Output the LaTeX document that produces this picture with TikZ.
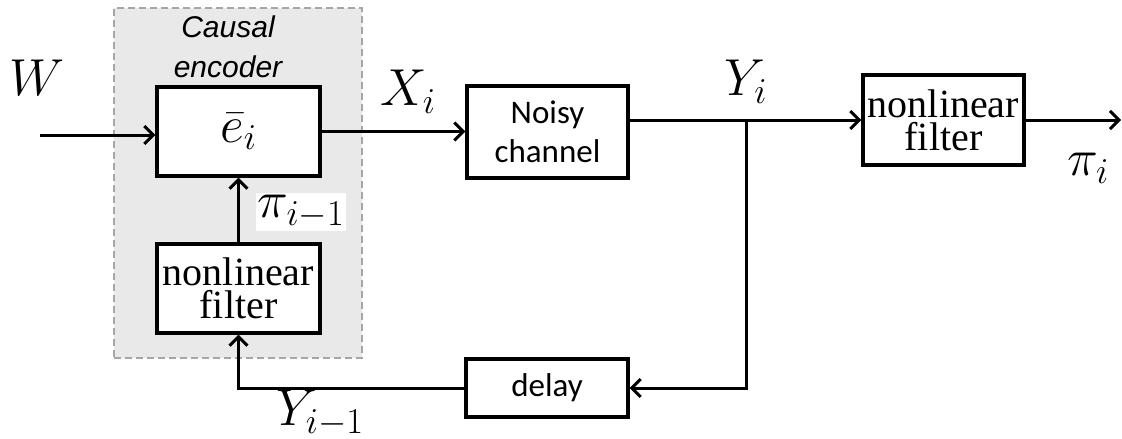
\RequirePackage{fix-cm}
\documentclass[tikz,border=0pt]{standalone}
\usepackage{fontspec}
\usetikzlibrary{arrows.meta,calc}
\newfontfamily\carl{Carlito}
\newfontfamily\arl{Liberation Sans}
\newfontfamily\tms{Liberation Serif}
\begin{document}
\begin{tikzpicture}[x=1pt,y=-1pt,
  blk/.style={draw=black,line width=3.2pt,fill=white,inner sep=0pt},
  conn/.style={line width=3pt},
  arr/.style={conn,-{Straight Barb[length=9pt,width=18pt,line width=3pt]}},
  encbox/.style={draw=gray!70,dashed,dash pattern=on 7pt off 4pt,line width=2pt,fill=gray!17,inner sep=0pt},
  serif/.style={font=\tms\fontsize{40}{33}\selectfont,align=center},
  sans/.style={font=\carl\fontsize{33}{39}\selectfont,align=center},
  mlab/.style={inner sep=0pt,font=\fontsize{52}{54}\selectfont}
]
\useasboundingbox (0,0) rectangle (1122,439);
% encoder area
\node[encbox,minimum width=248pt,minimum height=350pt] (enc) at (238,183) {};
\node[font=\arl\itshape\fontsize{30}{40}\selectfont,align=center,inner sep=0pt] (enclab) at (228,47) {Causal\\encoder};
% blocks
\node[blk,minimum width=163pt,minimum height=89pt,mlab] (e) at (238.5,131.5) {$\bar e_i$};
\node[blk,minimum width=163pt,minimum height=89pt,serif] (f1) at (238.5,288.5) {nonlinear\\filter};
\node[blk,minimum width=161pt,minimum height=92pt,sans] (ch) at (547.5,132) {Noisy\\channel};
\node[blk,minimum width=162pt,minimum height=58pt,sans] (dl) at (547,388) {delay};
\node[blk,minimum width=161pt,minimum height=90pt,serif] (f2) at (943.5,120) {nonlinear\\filter};
% coordinates
\coordinate (ws) at (40,135);
\coordinate (j) at (746,120);
\coordinate (out) at (1121,120);
% connectors
\draw[arr] (ws) -- (ws -| e.west);
\draw[arr] (e.east) -- (e.east -| ch.west);
\draw[conn] (ch.east |- j) -- (j);
\draw[arr] (j) -- (j -| f2.west);
\draw[arr] (j) |- (dl.east);
\draw[arr] (dl.west) -| (f1.south);
\draw[arr] (f1.north) -- (e.south);
\draw[arr] (f2.east) -- (out);
% labels
\node[mlab] (lw) at (37,78) {$W$};
\node[mlab] (lx) at (408,92) {$X_i$};
\node[mlab] (ly) at (746,82) {$Y_i$};
\node[mlab,fill=white,inner sep=2pt] (lp1) at (301,212) {$\pi_{i-1}$};
\node[mlab] (ly1) at (320,413) {$Y_{i-1}$};
\node[mlab] (lp) at (1088,168) {$\pi_i$};
\end{tikzpicture}
\end{document}
